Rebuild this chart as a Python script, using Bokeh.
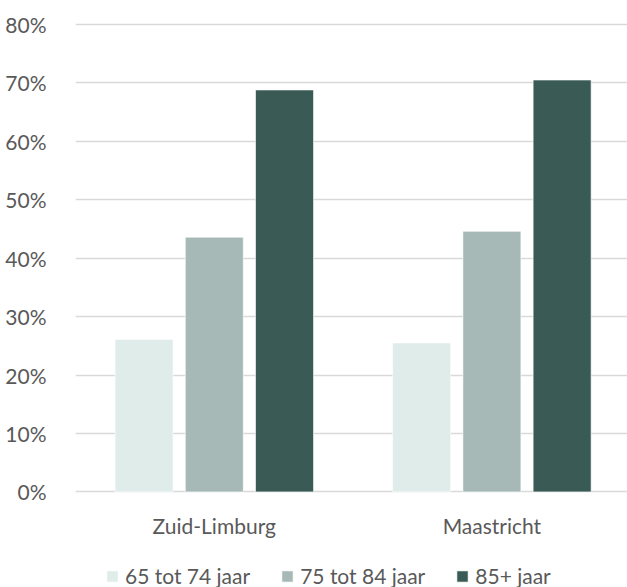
from bokeh.plotting import figure
from bokeh.models import ColumnDataSource, FixedTicker, NumeralTickFormatter, Range1d, Legend, LegendItem
from bokeh.core.properties import value
from bokeh.embed import file_html
from bokeh.resources import INLINE

regions = ["Zuid-Limburg", "Maastricht"]
series = ["65 tot 74 jaar", "75 tot 84 jaar", "85+ jaar"]
v_65_74 = [0.261, 0.255]
v_75_84 = [0.436, 0.446]
v_85p = [0.688, 0.705]
colors = ["#DFECE9", "#A6B9B6", "#3A5B55"]
y_ticks = [0, 0.1, 0.2, 0.3, 0.4, 0.5, 0.6, 0.7, 0.8]

FONT = "Lato"
TXT = "#595959"
FS = "21px"

p = figure(width=627, height=587, output_backend="svg", toolbar_location=None,
           x_range=Range1d(-0.5, 1.4885), y_range=Range1d(-0.1636, 0.80685),
           min_border_left=75, min_border_right=0, min_border_top=20, min_border_bottom=0)
p.outline_line_color = None
p.background_fill_color = "white"
p.border_fill_color = "white"

xs = list(range(len(regions)))
offsets = [-0.253, 0.0, 0.253]
vals = [v_65_74, v_75_84, v_85p]
renderers = []
for i, (vv, off) in enumerate(zip(vals, offsets)):
    src = ColumnDataSource(dict(x=[x + off for x in xs], top=vv))
    r = p.vbar(x="x", top="top", bottom=0, width=0.209, source=src,
               fill_color=colors[i], line_color="white", line_width=0.6)
    renderers.append(r)

# category labels (x axis) drawn below the zero line
lab_src = ColumnDataSource(dict(x=xs, y=[-0.0574] * len(xs), text=regions))
p.text(x="x", y="y", text="text", source=lab_src, text_align="center",
       text_baseline="middle", text_font=value(FONT), text_font_size=FS,
       text_color=TXT)

p.xaxis.visible = False
p.yaxis.ticker = FixedTicker(ticks=y_ticks)
p.yaxis.formatter = NumeralTickFormatter(format="0%")
p.yaxis.axis_line_color = None
p.yaxis.major_tick_line_color = None
p.yaxis.minor_tick_line_color = None
p.yaxis.major_label_text_font = FONT
p.yaxis.major_label_text_font_size = FS
p.yaxis.major_label_text_color = TXT
p.yaxis.major_label_standoff = 23

p.xgrid.grid_line_color = None
p.ygrid.ticker = FixedTicker(ticks=y_ticks)
p.ygrid.grid_line_color = "#D9D9D9"
p.ygrid.grid_line_width = 1.3

legend = Legend(items=[LegendItem(label=s, renderers=[r]) for s, r in zip(series, renderers)],
                orientation="horizontal", location=(30, -1),
                label_text_font=FONT, label_text_font_size=FS, label_text_color=TXT,
                glyph_width=14, glyph_height=14, label_standoff=6, spacing=30,
                border_line_color=None, background_fill_alpha=0, padding=0, margin=0)
p.add_layout(legend, "center")

open("out.html", "w").write(file_html(p, INLINE))
